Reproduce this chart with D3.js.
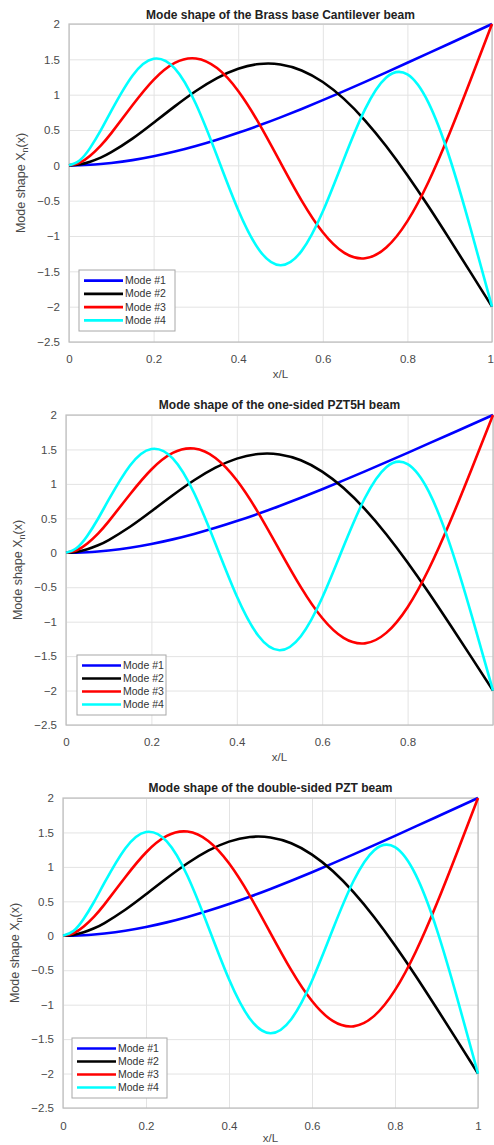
<!DOCTYPE html>
<html>
<head>
<meta charset="utf-8">
<title>Mode shapes</title>
<script src="https://d3js.org/d3.v7.min.js"></script>
<style>
  body { margin: 0; background: #fff; }
  svg { display: block; font-family: "Liberation Sans", Arial, sans-serif; }
</style>
</head>
<body>
<svg id="chart"></svg>
<script>
// x/L sample positions
const xPos = [0, 0.025, 0.05, 0.075, 0.1, 0.15, 0.2, 0.25, 0.3, 0.35, 0.4, 0.45, 0.5,
              0.55, 0.6, 0.65, 0.7, 0.75, 0.8, 0.85, 0.9, 0.95, 1];

// mode shape values (same in all three panels)
const mode1 = [0, 0.0022, 0.0086, 0.0191, 0.0336, 0.0737, 0.1277, 0.1946, 0.2730, 0.3617, 0.4598, 0.5659, 0.6790,
               0.7982, 0.9223, 1.0504, 1.1818, 1.3155, 1.4509, 1.5875, 1.7248, 1.8623, 2.0];
const mode2 = [0, 0.0132, 0.0507, 0.1091, 0.1853, 0.3776, 0.6021, 0.8345, 1.0523, 1.2354, 1.3669, 1.4339, 1.4273,
               1.3427, 1.1790, 0.9404, 0.6341, 0.2699, -0.1402, -0.5834, -1.0484, -1.5220, -2.0];
const mode3 = [0, 0.0360, 0.1341, 0.2791, 0.4561, 0.8496, 1.2090, 1.4490, 1.5125, 1.3761, 1.0519, 0.5835, 0.0394,
               -0.4986, -0.9475, -1.2361, -1.3148, -1.1628, -0.7896, -0.2315, 0.4573, 1.2174, 2.0];
const mode4 = [0, 0.0686, 0.2469, 0.4939, 0.7700, 1.2675, 1.5076, 1.3703, 0.8677, 0.1315, -0.6311, -1.2011, -1.4142,
               -1.2106, -0.6530, 0.0904, 0.7948, 1.2428, 1.2861, 0.8833, 0.1041, -0.9079, -2.0];

const modeNames = ["Mode #1", "Mode #2", "Mode #3", "Mode #4"];
const modeColors = ["#0000ff", "#000000", "#ff0000", "#00ffff"];

const titles = [
  "Mode shape of the Brass base Cantilever beam",
  "Mode shape of the one-sided PZT5H beam",
  "Mode shape of the double-sided PZT beam"
];

const xTicks = [0, 0.2, 0.4, 0.6, 0.8, 1];
const yTicks = [2, 1.5, 1, 0.5, 0, -0.5, -1, -1.5, -2, -2.5];

const width = 494, height = 1145;
const svg = d3.select("#chart").attr("width", width).attr("height", height);

// panel boxes; the middle panel's "1" label is cut off in the source
const panels = [
  { left: 69, right: 492, top: 24, bottom: 342, titleY: 19, tickY: 359, xlabY: 378, ylabX: 25,
    lastLabel: true, leg: { x: 79, y: 270, w: 96, h: 61 } },
  { left: 66, right: 493, top: 415, bottom: 725, titleY: 409, tickY: 742, xlabY: 761, ylabX: 22,
    lastLabel: false, leg: { x: 77, y: 655, w: 89, h: 60 } },
  { left: 63, right: 478, top: 798, bottom: 1108, titleY: 792, tickY: 1126, xlabY: 1142, ylabX: 19,
    lastLabel: true, leg: { x: 72, y: 1038, w: 95, h: 60 } }
];

const series = [mode1, mode2, mode3, mode4];

panels.forEach((p, k) => {
  const x = d3.scaleLinear().domain([0, 1]).range([p.left, p.right]);
  const y = d3.scaleLinear().domain([-2.5, 2]).range([p.bottom, p.top]);
  const g = svg.append("g");

  // grid
  g.append("g")
    .attr("transform", `translate(0,${p.bottom})`)
    .call(d3.axisBottom(x).tickValues(xTicks).tickSize(-(p.bottom - p.top)).tickFormat(""))
    .call(s => s.select(".domain").remove())
    .call(s => s.selectAll("line").attr("stroke", "#e3e3e3"));
  g.append("g")
    .attr("transform", `translate(${p.left},0)`)
    .call(d3.axisLeft(y).tickValues(yTicks).tickSize(-(p.right - p.left)).tickFormat(""))
    .call(s => s.select(".domain").remove())
    .call(s => s.selectAll("line").attr("stroke", "#e3e3e3"));

  // tick labels
  const labelTicks = p.lastLabel ? xTicks : xTicks.slice(0, -1);
  const xa = g.append("g")
    .attr("transform", `translate(0,${p.bottom})`)
    .call(d3.axisBottom(x).tickValues(labelTicks).tickSize(0).tickPadding(p.tickY - p.bottom - 4)
      .tickFormat(d3.format("")));
  xa.select(".domain").remove();
  xa.selectAll("text").attr("fill", "#4a4a4a").attr("font-size", "11.5px")
    .attr("font-family", "Liberation Sans, Arial, sans-serif");
  // keep the right-most label inside the page
  xa.selectAll("text").filter(d => d === 1 && x(1) > width - 6)
    .attr("text-anchor", "end").attr("dx", 494 - x(1) - 0.5);

  const ya = g.append("g")
    .attr("transform", `translate(${p.left},0)`)
    .call(d3.axisLeft(y).tickValues(yTicks).tickSize(0).tickPadding(9).tickFormat(d3.format("")));
  ya.select(".domain").remove();
  ya.selectAll("text").attr("fill", "#4a4a4a").attr("font-size", "11.5px")
    .attr("font-family", "Liberation Sans, Arial, sans-serif");

  // box
  g.append("rect")
    .attr("x", p.left).attr("y", p.top)
    .attr("width", p.right - p.left).attr("height", p.bottom - p.top)
    .attr("fill", "none").attr("stroke", "#bdbdbd").attr("stroke-width", 1.2);

  // curves
  const line = d3.line()
    .x((d, i) => x(xPos[i]))
    .y(d => y(d))
    .curve(d3.curveNatural);
  series.forEach((vals, j) => {
    g.append("path")
      .datum(vals)
      .attr("d", line)
      .attr("fill", "none")
      .attr("stroke", modeColors[j])
      .attr("stroke-width", 2.6);
  });

  // title
  g.append("text")
    .attr("x", (p.left + p.right) / 2)
    .attr("y", p.titleY)
    .attr("text-anchor", "middle")
    .attr("font-weight", "bold")
    .attr("font-size", "12px")
    .attr("fill", "#222")
    .text(titles[k]);

  // x label
  g.append("text")
    .attr("x", (p.left + p.right) / 2)
    .attr("y", p.xlabY)
    .attr("text-anchor", "middle")
    .attr("font-size", "11.5px")
    .attr("fill", "#4a4a4a")
    .text("x/L");

  // y label with subscript
  const yl = g.append("text")
    .attr("transform", `translate(${p.ylabX},${(p.top + p.bottom) / 2}) rotate(-90)`)
    .attr("text-anchor", "middle")
    .attr("font-size", "12.5px")
    .attr("fill", "#4a4a4a");
  yl.append("tspan").text("Mode shape X");
  yl.append("tspan").attr("font-size", "9px").attr("dy", 3).text("n");
  yl.append("tspan").attr("dy", -3).text("(x)");

  // legend
  const L = p.leg;
  g.append("rect")
    .attr("x", L.x).attr("y", L.y).attr("width", L.w).attr("height", L.h)
    .attr("fill", "#fff").attr("stroke", "#a8a8a8").attr("stroke-width", 1);
  const rowH = (L.h - 8) / 4;
  modeNames.forEach((name, j) => {
    const cy = L.y + 4 + rowH * (j + 0.5);
    g.append("line")
      .attr("x1", L.x + 5).attr("x2", L.x + 44)
      .attr("y1", cy).attr("y2", cy)
      .attr("stroke", modeColors[j]).attr("stroke-width", 2.6);
    g.append("text")
      .attr("x", L.x + 46).attr("y", cy + 3.5)
      .attr("font-size", "10.5px")
      .attr("fill", "#333")
      .text(name);
  });
});
</script>
</body>
</html>
